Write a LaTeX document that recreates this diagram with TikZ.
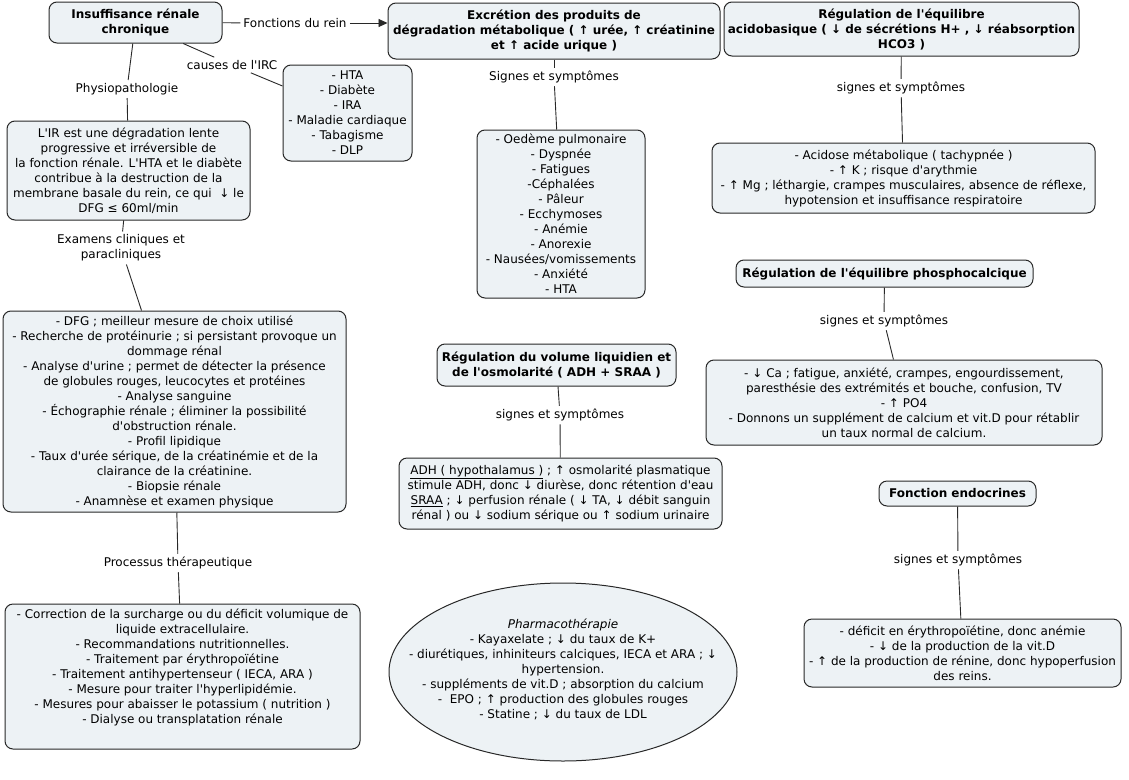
\documentclass[tikz,border=0pt]{standalone}
\usepackage{fontspec}
\setmainfont{DejaVu Sans}
\usetikzlibrary{shapes.geometric,arrows.meta}
\definecolor{boxfill}{RGB}{237,242,245}
\definecolor{edge}{RGB}{40,40,40}
\newcommand{\qs}{\textquotesingle}
\begin{document}
\begin{tikzpicture}[x=1pt,y=-1pt,
  txt/.style={font=\fontsize{12}{15}\selectfont},
  box/.style={txt, draw=edge, fill=boxfill, rounded corners=8pt, line width=1pt, align=center, inner sep=3pt},
  tbox/.style={box, font=\fontsize{12}{15}\selectfont\bfseries},
  lab/.style={txt, align=center, inner sep=3pt},
  conn/.style={draw=edge, line width=0.9pt}]
\fill[white] (0,0) rectangle (1129,779);
\useasboundingbox (0,0) rectangle (1129,779);

% main nodes
\node[tbox, minimum width=173pt, minimum height=41pt] (irc) at (135.5,22.5) {Insuffisance rénale\\chronique};
\node[tbox, minimum width=332pt, minimum height=56pt] (exc) at (554,31) {Excrétion des produits de\\dégradation métabolique ( ↑ urée, ↑ créatinine\\et ↑ acide urique )};
\node[tbox, minimum width=355pt, minimum height=54pt] (acid) at (901.5,29) {Régulation de l\qs équilibre\\acidobasique ( ↓ de sécrétions H+ , ↓ réabsorption\\HCO3 )};
\node[box, minimum width=129pt, minimum height=96pt] (causes) at (347.5,113) {- HTA\\- Diabète\\- IRA\\- Maladie cardiaque\\- Tabagisme\\- DLP};
\node[box, minimum width=243pt, minimum height=99pt] (phys) at (128.5,170.5) {L\qs IR est une dégradation lente\\progressive et irréversible de\\la fonction rénale. L\qs HTA et le diabète\\contribue à la destruction de la\\membrane basale du rein, ce qui ~↓ le\\DFG ≤ 60ml/min};
\node[box, minimum width=168pt, minimum height=168pt] (excs) at (561,214) {- Oedème pulmonaire\\- Dyspnée\\- Fatigues\\-Céphalées\\- Pâleur\\- Ecchymoses\\- Anémie\\- Anorexie\\- Nausées/vomissements\\- Anxiété\\- HTA};
\node[box, minimum width=383pt, minimum height=70pt] (acids) at (903.5,178) {- Acidose métabolique ( tachypnée )\\- ↑ K ; risque d\qs arythmie\\- ↑ Mg ; léthargie, crampes musculaires, absence de réflexe,\\hypotension et insuffisance respiratoire};
\node[box, minimum width=343pt, minimum height=201pt] (exam) at (174.5,411.5) {- DFG ; meilleur mesure de choix utilisé\\- Recherche de protéinurie ; si persistant provoque un\\dommage rénal\\- Analyse d\qs urine ; permet de détecter la présence\\de globules rouges, leucocytes et protéines\\- Analyse sanguine\\- Échographie rénale ; éliminer la possibilité\\d\qs obstruction rénale.\\- Profil lipidique\\- Taux d\qs urée sérique, de la créatinémie et de la\\clairance de la créatinine.\\- Biopsie rénale\\- Anamnèse et examen physique};
\node[tbox, minimum width=297pt, minimum height=27pt] (phos) at (884.5,273.5) {Régulation de l\qs équilibre phosphocalcique};
\node[box, minimum width=396pt, minimum height=85pt] (phoss) at (904,402.5) {- ↓ Ca ; fatigue, anxiété, crampes, engourdissement,\\paresthésie des extrémités et bouche, confusion, TV\\- ↑ PO4\\- Donnons un supplément de calcium et vit.D pour rétablir\\un taux normal de calcium.};
\node[tbox, minimum width=239pt, minimum height=42pt] (vol) at (556.5,365) {Régulation du volume liquidien et\\de l\qs osmolarité ( ADH + SRAA )};
\node[box, minimum width=323pt, minimum height=71pt] (vols) at (560.5,493.5) {\underline{ADH ( hypothalamus )} ; ↑ osmolarité plasmatique\\stimule ADH, donc ↓ diurèse, donc rétention d\qs eau\\\underline{SRAA} ; ↓ perfusion rénale ( ↓ TA, ↓ débit sanguin\\rénal ) ou ↓ sodium sérique ou ↑ sodium urinaire};
\node[tbox, minimum width=157pt, minimum height=25pt] (endo) at (957.5,493.5) {Fonction endocrines};
\node[box, minimum width=317pt, minimum height=68pt] (endos) at (962.5,653) {- déficit en érythropoïétine, donc anémie\\- ↓ de la production de la vit.D\\- ↑ de la production de rénine, donc hypoperfusion\\des reins.};
\node[box, minimum width=355pt, minimum height=145pt] (ther) at (182.5,676.5) {- Correction de la surcharge ou du déficit volumique de\\liquide extracellulaire.\\- Recommandations nutritionnelles.\\- Traitement par érythropoïétine\\- Traitement antihypertenseur ( IECA, ARA )\\- Mesure pour traiter l\qs hyperlipidémie.\\- Mesures pour abaisser le potassium ( nutrition )\\- Dialyse ou transplatation rénale\\[5pt]\mbox{}};
\node[ellipse, draw=edge, fill=boxfill, line width=1pt, minimum width=348pt, minimum height=178pt, inner sep=0pt] (pharma) at (563,672) {};
\node[txt, align=center, inner sep=0pt] (pharmatxt) at ([yshift=3pt]pharma.center) {\textit{Pharmacothérapie}\\- Kayaxelate ; ↓ du taux de K+\\- diurétiques, inhiniteurs calciques, IECA et ARA ; ↓\\hypertension.\\- suppléments de vit.D ; absorption du calcium\\- ~EPO ; ↑ production des globules rouges\\- Statine ; ↓ du taux de LDL};

% labels
\node[lab] (l1) at (295,23) {Fonctions du rein};
\node[lab] (l2) at (232,65) {causes de l\qs IRC};
\node[lab] (l3) at (127,89) {Physiopathologie};
\node[lab] (l4) at (121,248) {Examens cliniques et\\paracliniques};
\node[lab] (l5) at (178,563) {Processus thérapeutique};
\node[lab] (l6) at (554,77) {Signes et symptômes};
\node[lab] (l7) at (901,88) {signes et symptômes};
\node[lab] (l8) at (884,321) {signes et symptômes};
\node[lab] (l9) at (560,415) {signes et symptômes};
\node[lab] (l10) at (958,560) {signes et symptômes};

% connectors
\draw[conn] (irc) -- (l1);
\draw[conn, -{Triangle[length=9pt,width=8pt]}] (l1) -- (l1 -| exc.west);
\draw[conn] (irc) -- (l2);
\draw[conn] (l2) -- (causes);
\draw[conn] (irc) -- (l3);
\draw[conn] (l3) -- (phys);
\draw[conn] (phys) -- (l4);
\draw[conn] (l4) -- (exam);
\draw[conn] (exam) -- (l5);
\draw[conn] (l5) -- (ther);
\draw[conn] (exc) -- (l6);
\draw[conn] (l6) -- (excs);
\draw[conn] (acid) -- (l7);
\draw[conn] (l7) -- (acids);
\draw[conn] (phos) -- (l8);
\draw[conn] (l8) -- (phoss);
\draw[conn] (vol) -- (l9);
\draw[conn] (l9) -- (vols);
\draw[conn] (endo) -- (l10);
\draw[conn] (l10) -- (endos);
\end{tikzpicture}
\end{document}
